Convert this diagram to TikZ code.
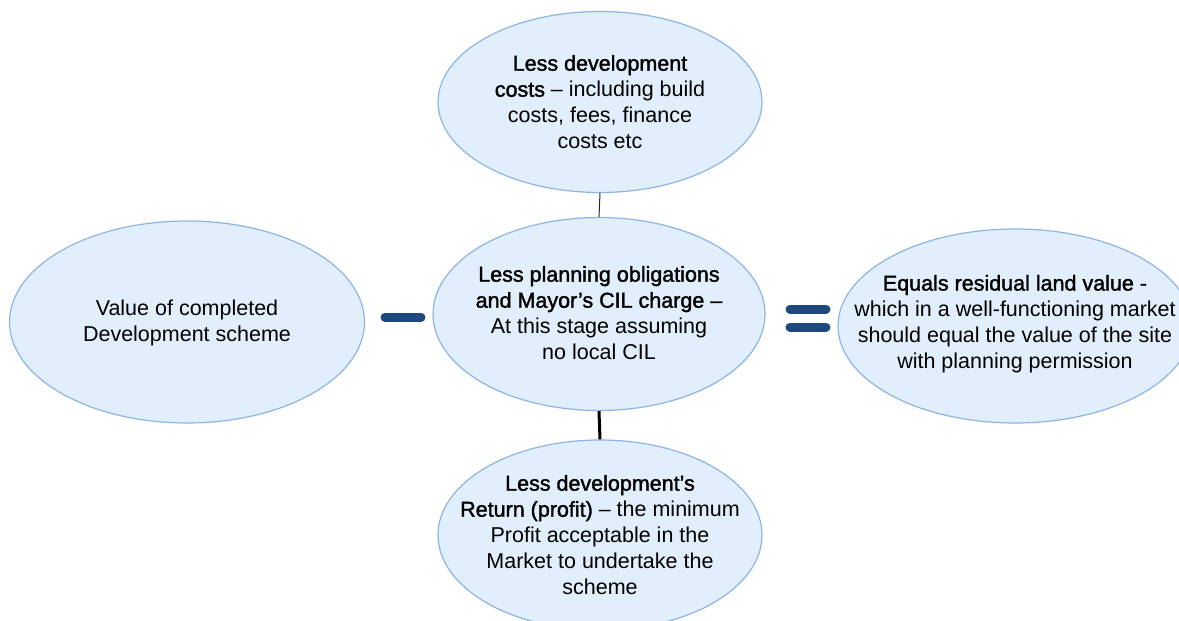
\documentclass[tikz,border=0pt]{standalone}
\usepackage{fontspec}
\setmainfont{Liberation Sans}[BoldFont={Liberation Sans}, BoldFeatures={FakeBold=1.6}]
\usetikzlibrary{shapes.geometric}
\definecolor{bubblefill}{HTML}{E1EEFC}
\definecolor{bubbleline}{HTML}{8EB4E3}
\definecolor{signblue}{HTML}{1F497D}
\tikzset{
  bubble/.style={ellipse, draw=bubbleline, fill=bubblefill, line width=1.2pt, inner sep=0pt},
  txt/.style={align=center, inner sep=0pt, font=\fontsize{21.5}{26}\selectfont},
  sign/.style={signblue, line width=9pt, line cap=round},
  link/.style={draw=black!85}
}
\begin{document}
\begin{tikzpicture}[x=1pt,y=-1pt]
\useasboundingbox (0,0) rectangle (1179,621);
\clip (0,0) rectangle (1179,621);
% ellipses
\node[bubble, minimum width=324pt, minimum height=181pt] (top) at (600,102) {};
\node[bubble, minimum width=355pt, minimum height=202pt] (left) at (187,322) {};
\node[bubble, minimum width=332pt, minimum height=193pt] (mid) at (599,314) {};
\node[bubble, minimum width=354pt, minimum height=194pt] (right) at (1015,326) {};
\node[bubble, minimum width=324pt, minimum height=190pt] (bot) at (600,535) {};
% connectors
\draw[link, line width=1pt] (top.south) -- (mid.north);
\draw[link, draw=black, line width=3pt] (mid.south) -- (bot.north);
% operators
\coordinate (m1) at (385,317);
\coordinate (m2) at (421,317);
\draw[sign] (m1) -- (m2);
\coordinate (e1) at (790,309);
\coordinate (e2) at (826,309);
\coordinate (e3) at (790,327);
\coordinate (e4) at (826,327);
\draw[sign] (e1) -- (e2);
\draw[sign] (e3) -- (e4);
% texts
\node[txt] (ttop) at (600,102) {\textbf{Less development}\\\textbf{costs} – including build\\costs, fees, finance\\costs etc};
\node[txt] (tleft) at (187,323) {Value of completed\\Development scheme};
\node[txt] (tmid) at (599,313) {\textbf{Less planning obligations}\\\textbf{and Mayor’s CIL charge –}\\At this stage assuming\\no local CIL};
\node[txt] (tright) at (1015,324) {\textbf{Equals residual land value -}\\which in a well-functioning market\\should equal the value of the site\\with planning permission};
\node[txt] (tbot) at (600,535) {\textbf{Less development’s}\\\textbf{Return (profit)} – the minimum\\Profit acceptable in the\\Market to undertake the\\scheme};
\end{tikzpicture}
\end{document}
